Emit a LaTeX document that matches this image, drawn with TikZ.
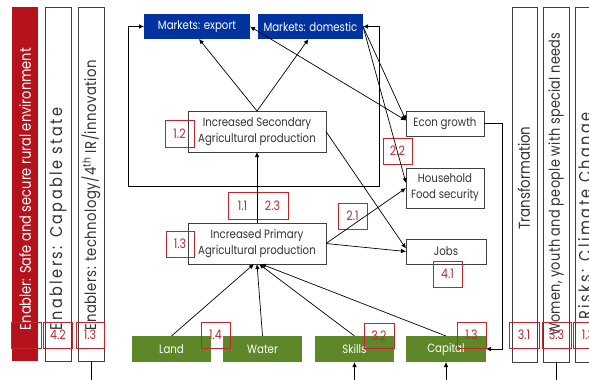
\documentclass[tikz,border=0pt]{standalone}
\usepackage{fontspec}
\setmainfont{Poppins}[FakeStretch=0.85]
\usepackage{graphicx}
\usetikzlibrary{arrows.meta,calc}
\definecolor{barred}{RGB}{181,18,27}
\definecolor{mblue}{RGB}{0,51,160}
\definecolor{mgreen}{RGB}{94,135,42}
\definecolor{numred}{RGB}{192,39,45}
\definecolor{edge}{RGB}{64,64,64}
\definecolor{txt}{RGB}{51,51,51}
\begin{document}
\begin{tikzpicture}[x=1pt,y=-1pt,
  every node/.style={inner sep=0pt, outer sep=0pt},
  box/.style={draw=edge, line width=0.9pt, fill=white, align=center, text=txt,
    font=\fontsize{12}{16}\selectfont},
  bluebox/.style={fill=mblue, text=white, minimum height=25, font=\fontsize{12}{14}\selectfont},
  greenbox/.style={fill=mgreen, text=white, minimum height=26, minimum width=79, font=\fontsize{12}{14}\selectfont},
  barbox/.style={draw=edge, line width=0.9pt, fill=white, minimum width=26, minimum height=354},
  numbox/.style={draw=numred, line width=0.8pt, minimum width=29, minimum height=26, text=numred,
    font=\fontsize{13}{14}\selectfont},
  bartext/.style={rotate=90, text=txt},
  arr/.style={-{Latex[length=5pt,width=4.5pt]}, line width=0.7pt},
  dblarr/.style={{Latex[length=5pt,width=4.5pt]}-{Latex[length=5pt,width=4.5pt]}, line width=0.7pt},
  plain/.style={line width=0.7pt}
]
\useasboundingbox (0,0) rectangle (589,380);
\clip (0,0) rectangle (589,380);

% ---------- left bars ----------
\node[fill=barred, minimum width=26, minimum height=354] (bar1) at (25,184) {};
\node[barbox] (bar2) at (58,184) {};
\node[barbox] (bar3) at (91,184) {};
\node[bartext, text=white] (t1) at (25,189) {\resizebox{282pt}{!}{Enabler: Safe and secure rural environment}};
\node[bartext] (t2) at (58,219) {\resizebox{222pt}{!}{\addfontfeature{LetterSpace=14}Enablers: Capable state}};
\node[bartext] (t3) at (91,195) {\resizebox{270pt}{!}{\addfontfeature{LetterSpace=3}Enablers: technology/4\textsuperscript{th} IR/innovation}};
\node[numbox, minimum width=30] (n0) at (26,335) {};
\node[numbox] (n42) at (58,335) {4.2};
\node[numbox, minimum width=28] (n13a) at (90,335) {1.3};
\coordinate (b3end) at (91,380);
\draw[plain] (bar3.south) -- (b3end);

% ---------- right bars ----------
\node[barbox, minimum width=25, minimum height=355] (r1) at (524.5,184.5) {};
\node[barbox, minimum height=355] (r2) at (556,184.5) {};
\node[barbox, minimum height=355] (r3) at (588,184.5) {};
\node[bartext] (rt1) at (524,178) {\resizebox{103pt}{!}{Transformation}};
\node[bartext] (rt2) at (556,184) {\resizebox{303pt}{!}{\addfontfeature{LetterSpace=2}Women, youth and people with special needs}};
\node[bartext] (rt3) at (587,216) {\resizebox{207pt}{!}{\addfontfeature{LetterSpace=14}Risks: Climate Change}};
\node[numbox, minimum width=30] (n31) at (524,335) {3.1};
\node[numbox] (n33) at (556.5,335) {3.3};
\node[numbox, minimum width=30] (n1x) at (588,335) {1.3};
\coordinate (r2end) at (556,380);
\draw[plain] (r2.south) -- (r2end);

% ---------- markets ----------
\node[bluebox, minimum width=106] (exp) at (197,26.5) {Markets: export};
\node[bluebox, minimum width=105] (dom) at (310.5,26.5) {Markets: domestic};

% ---------- production boxes ----------
\node[box, minimum width=138, minimum height=41] (sec) at (257,131.5) {Increased Secondary\\Agricultural production};
\node[box, minimum width=138, minimum height=41] (pri) at (257,243.5) {Increased Primary\\Agricultural production};

% ---------- outcome boxes ----------
\node[box, minimum width=78, minimum height=25] (econ) at (445,123.5) {Econ growth};
\node[box, minimum width=78, minimum height=40] (hh) at (445,188) {Household\\Food security};
\node[box, minimum width=80, minimum height=25] (jobs) at (446,251.5) {Jobs};

% ---------- inputs ----------
\node[greenbox] (land) at (171.5,349) {Land};
\node[greenbox] (water) at (262.5,349) {Water};
\node[greenbox] (skills) at (354.5,349) {Skills};
\node[greenbox, minimum width=80] (cap) at (446,349) {Capital};

% ---------- number boxes in the middle ----------
\node[numbox, minimum height=27] (n12) at (179.5,133.5) {1.2};
\node[numbox, minimum width=28] (n13b) at (180,244) {1.3};
\node[numbox, minimum height=27] (n11) at (242.5,205.5) {1.1};
\node[numbox, minimum width=31, minimum height=27] (n23) at (272.5,205.5) {2.3};
\node[numbox] (n21) at (352.5,216) {2.1};
\node[numbox] (n22) at (397.5,151) {2.2};
\node[numbox] (n41) at (447.5,274) {4.1};
\node[numbox] (n14) at (215.5,335) {1.4};
\node[numbox, minimum width=30, minimum height=25] (n32) at (379,335.5) {3.2};
\node[numbox] (n13c) at (471.5,335) {1.3};

% ---------- connectors ----------
\coordinate (lp1) at (128,26.5);
\coordinate (lp2) at (128,186);
\coordinate (lp3) at (379,186);
\coordinate (lp4) at (379,26.5);
\draw[dblarr] (exp.west) -- (lp1) -- (lp2) -- (lp3) -- (lp4) -- (dom.east);

\draw[arr] (sec.north) -- ($(exp.south)+(2,0)$);
\draw[arr] (sec.north) -- ($(dom.south)+(-2,0)$);
\draw[arr] (pri.north) -- (sec.south);

\draw[arr] (sec.east) -- ($(jobs.west)+(0,-3)$);
\draw[arr] (pri.east) -- (hh.west);
\draw[arr] (pri.east) -- (jobs.west);

\draw[arr] (dom.east) -- ($(econ.west)+(0,-3)$);
\draw[arr] (dom.east) -- ($(hh.west)+(0,-5)$);
\draw[dblarr] ($(econ.west)+(0,-3)$) -- (exp.east);

\coordinate (elb) at (502,123.5);
\draw[arr] (econ.east) -- (elb) |- (cap.east);

\draw[arr] (land.north) -- ($(pri.south)+(-3,0)$);
\draw[arr] (water.north) -- (pri.south);
\draw[arr] (skills.north) -- ($(pri.south)+(2,0)$);
\draw[arr] (cap.north) -- ($(pri.south)+(4,0)$);

\coordinate (skb) at (354.5,380);
\coordinate (cpb) at (446,380);
\draw[arr] (skb) -- (skills.south);
\draw[arr] (cpb) -- (cap.south);
\end{tikzpicture}
\end{document}
